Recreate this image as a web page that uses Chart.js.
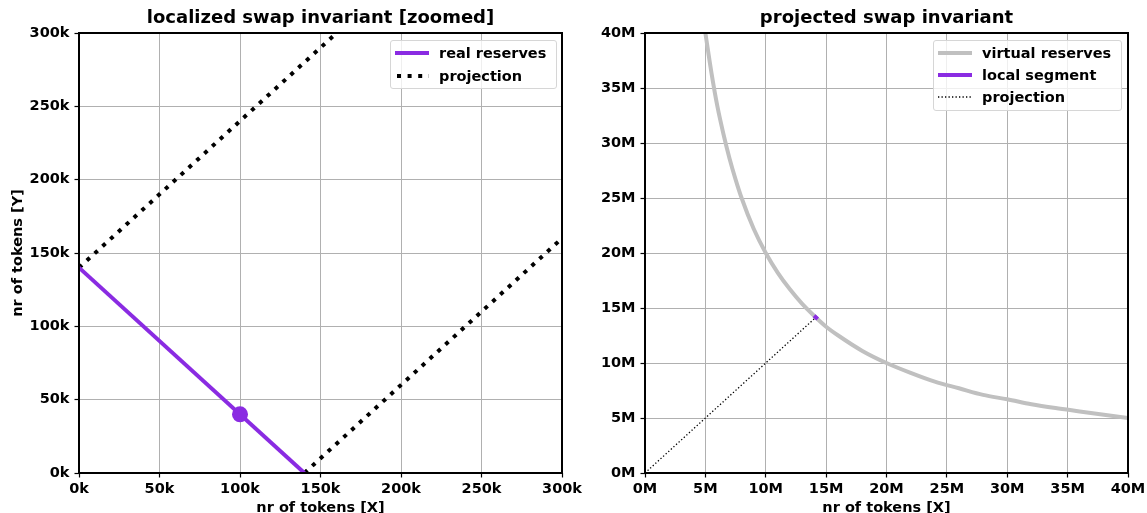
<!DOCTYPE html>
<html>
<head>
<meta charset="utf-8">
<script src="https://cdn.jsdelivr.net/npm/chart.js@4/dist/chart.umd.min.js"></script>
<style>
  html, body { margin: 0; padding: 0; background: #fff; overflow: hidden; }
  body { width: 1147px; height: 513px; position: relative; font-family: "DejaVu Sans", sans-serif; }
  canvas { position: absolute; top: 0; }
  #leftChart { left: 0; }
  #rightChart { left: 573px; }
  .legend {
    position: absolute; box-sizing: border-box;
    background: rgba(255,255,255,0.8); border: 1px solid #d6d6d6; border-radius: 3px;
    font: bold 14.5px "DejaVu Sans", sans-serif; color: #000;
  }
  .legend .row { position: absolute; left: 4px; height: 20px; display: flex; align-items: center; white-space: nowrap; }
  .legend svg { width: 34px; height: 8px; margin-right: 10px; }
</style>
</head>
<body>
<canvas id="leftChart" width="641" height="513"></canvas>
<canvas id="rightChart" width="627" height="513"></canvas>

<div class="legend" style="left:390px;top:40px;width:167px;height:49px">
  <div class="row" style="top:2px"><svg><line x1="0" y1="4" x2="34" y2="4" stroke="#8a2be2" stroke-width="4"/></svg>real reserves</div>
  <div class="row" style="top:25px"><svg><line x1="2" y1="4" x2="34" y2="4" stroke="#000" stroke-width="4" stroke-dasharray="4 6.6"/></svg>projection</div>
</div>
<div class="legend" style="left:933px;top:40px;width:189px;height:71px">
  <div class="row" style="top:2px"><svg><line x1="0" y1="4" x2="34" y2="4" stroke="#c0c0c0" stroke-width="4"/></svg>virtual reserves</div>
  <div class="row" style="top:24px"><svg><line x1="0" y1="4" x2="34" y2="4" stroke="#8a2be2" stroke-width="4"/></svg>local segment</div>
  <div class="row" style="top:46px"><svg><line x1="0" y1="4" x2="34" y2="4" stroke="#000" stroke-width="1.3" stroke-dasharray="1.3 2.2"/></svg>projection</div>
</div>

<script>
// left panel (values in thousands of tokens)
const reserveX   = [0, 140];
const reserveY   = [140, 0];
const markerX    = [100];
const markerY    = [40];
const projUpperX = [0, 160];
const projUpperY = [140, 300];
const projLowerX = [140, 300];
const projLowerY = [0, 160];
const leftTicks  = [0, 50, 100, 150, 200, 250, 300];

// right panel (values in millions of tokens)
const virtualX  = [5, 5.5, 6, 6.5, 7, 7.5, 8, 9, 10, 11, 12, 13, 14, 15, 16, 18, 20, 22, 24, 26, 28, 30, 32, 34, 36, 38, 40];
const virtualY  = [40, 36.4, 33.3, 30.8, 28.6, 26.7, 25, 22.2, 20, 18.2, 16.7, 15.4, 14.3, 13.3, 12.5, 11.1, 10, 9.1, 8.3, 7.7, 7.1, 6.7, 6.25, 5.9, 5.6, 5.3, 5];
const segmentX  = [14.0, 14.3];
const segmentY  = [14.3, 14.0];
const projX     = [0, 14.1];
const projY     = [0, 14.1];
const rightTicks = [0, 5, 10, 15, 20, 25, 30, 35, 40];

const PURPLE = '#8a2be2';
const FONT = { family: 'DejaVu Sans', weight: 'bold', size: 14.5 };

const pts = (xs, ys) => xs.map((x, i) => ({ x, y: ys[i] }));

// black frame around the plot area, like matplotlib spines
const framePlugin = {
  id: 'frame',
  afterLayout(chart) {
    // centre the title over the plot area instead of the whole canvas
    const a = chart.chartArea;
    if (chart.titleBlock) { chart.titleBlock.left = a.left; chart.titleBlock.right = a.right; }
  },
  afterDatasetsDraw(chart) {
    const { ctx, chartArea: a } = chart;
    ctx.save();
    ctx.strokeStyle = '#000';
    ctx.lineWidth = 2;
    ctx.strokeRect(a.left, a.top, a.right - a.left, a.bottom - a.top);
    ctx.restore();
  }
};

function axis(ticks, suffix, opts) {
  return {
    type: 'linear',
    min: ticks[0], max: ticks[ticks.length - 1],
    afterBuildTicks: s => { s.ticks = ticks.map(v => ({ value: v })); },
    ticks: { callback: v => v + suffix, font: FONT, color: '#000', padding: opts.pad, maxRotation: 0, autoSkip: false },
    grid: { color: '#b0b0b0', lineWidth: 1, tickLength: 4.5, tickColor: '#000', tickWidth: 1.2 },
    border: { display: false },
    title: opts.title
      ? { display: true, text: opts.title, font: FONT, color: '#000', padding: opts.titlePad }
      : { display: false },
    afterFit: opts.fit,
  };
}

function makeChart(id, title, datasets, ticks, suffix, yWidth, yTitle, rightPad) {
  return new Chart(document.getElementById(id), {
    type: 'scatter',
    data: { datasets },
    options: {
      responsive: false, animation: false, devicePixelRatio: 1,
      layout: { padding: { left: 0, right: rightPad, top: 0, bottom: 0 } },
      plugins: {
        legend: { display: false },
        tooltip: { enabled: false },
        title: { display: true, text: title, color: '#000',
                 font: { family: 'DejaVu Sans', weight: 'bold', size: 18 },
                 padding: { top: 8, bottom: 3.4 } },
      },
      scales: {
        x: axis(ticks, suffix, { pad: 3.5, title: 'nr of tokens [X]', titlePad: { top: 0, bottom: -4 },
                                 fit: s => { s.height = 40; } }),
        y: axis(ticks, suffix, { pad: 5, title: yTitle, titlePad: { top: 9.3, bottom: 0 },
                                 fit: s => { s.width = yWidth; } }),
      },
    },
    plugins: [framePlugin],
  });
}

makeChart('leftChart', 'localized swap invariant [zoomed]', [
  { label: 'marker', data: pts(markerX, markerY), pointRadius: 8, pointBackgroundColor: PURPLE, pointBorderWidth: 0 },
  { label: 'real reserves', data: pts(reserveX, reserveY), showLine: true, borderColor: PURPLE, borderWidth: 4, pointRadius: 0 },
  { label: 'projection', data: pts(projUpperX, projUpperY), showLine: true, borderColor: '#000', borderWidth: 4, borderDash: [4, 6.6], pointRadius: 0 },
  { label: 'projection (lower)', data: pts(projLowerX, projLowerY), showLine: true, borderColor: '#000', borderWidth: 4, borderDash: [4, 6.6], pointRadius: 0 },
], leftTicks, 'k', 79, 'nr of tokens [Y]', 79);

makeChart('rightChart', 'projected swap invariant', [
  { label: 'local segment', data: pts(segmentX, segmentY), showLine: true, borderColor: PURPLE, borderWidth: 4, pointRadius: 0 },
  { label: 'projection', data: pts(projX, projY), showLine: true, borderColor: '#000', borderWidth: 1.3, borderDash: [1.3, 2.2], pointRadius: 0 },
  { label: 'virtual reserves', data: pts(virtualX, virtualY), showLine: true, borderColor: '#c0c0c0', borderWidth: 4,
    cubicInterpolationMode: 'monotone', pointRadius: 0 },
], rightTicks, 'M', 72, null, 72);
</script>
</body>
</html>
